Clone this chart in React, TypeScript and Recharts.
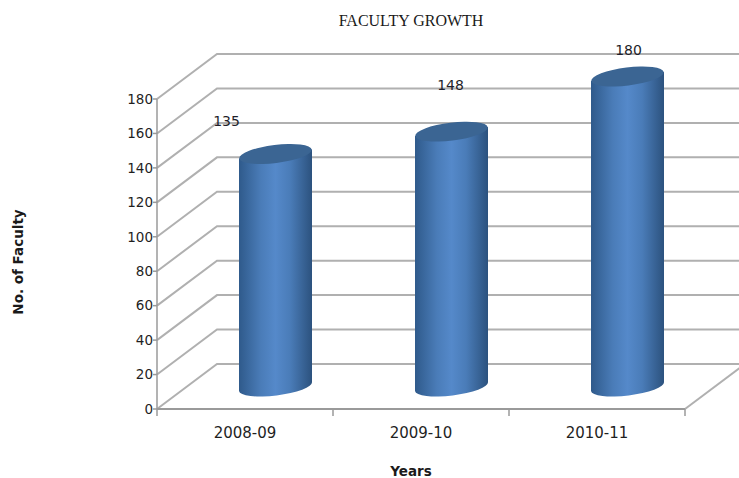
import React from 'react';
import { BarChart, Bar, XAxis, YAxis, CartesianGrid, LabelList } from 'recharts';

const years = ['2008-09', '2009-10', '2010-11'];
const faculty = [135, 148, 180];
const yTicks = [0, 20, 40, 60, 80, 100, 120, 140, 160, 180];

// data labels were dragged by hand in the original, so each has its own nudge
const labelNudge = [
  { dx: -19, dy: -56 },
  { dx: 29, dy: -69 },
  { dx: 31, dy: -49 },
];

const rows = years.map((year, i) => ({ year, faculty: faculty[i] }));

const DEPTH_X = 60;
const DEPTH_Y = 45;
const GRID = '#b0b0b0';
const AXIS = '#9a9a9a';
const TICK_FONT = '"DejaVu Sans", sans-serif';

// wall + side wall line for every value; the zero line also gets the floor edge
const WallLine = (props: any) => {
  const { x1, x2, y1 } = props;
  const isFloor = Math.abs(y1 - 409) < 1;
  return (
    <g>
      <polyline
        points={`${x1},${y1} ${x1 + DEPTH_X},${y1 - DEPTH_Y} ${x2 + DEPTH_X},${y1 - DEPTH_Y}`}
        fill="none"
        stroke={GRID}
        strokeWidth={2}
      />
      {isFloor && (
        <line x1={x2} y1={y1} x2={x2 + DEPTH_X} y2={y1 - DEPTH_Y} stroke={GRID} strokeWidth={2} />
      )}
    </g>
  );
};

// cylinder sits half way back in the 3d floor
const Cylinder = (props: any) => {
  const { x, y, width, height } = props;
  const left = x + DEPTH_X / 2;
  const right = left + width;
  const cx = left + width / 2;
  const top = y - DEPTH_Y / 2;
  const bottom = top + height;
  const rx = width / 2;
  const ry = 9;
  const tilt = -7;
  const lift = 4.5;
  return (
    <g>
      <path
        d={`M${left},${top + lift} L${right},${top - lift} L${right},${bottom - lift} A${rx},${ry} ${tilt} 0 1 ${left},${bottom + lift} Z`}
        fill="url(#cylinderBody)"
      />
      <ellipse cx={cx} cy={top} rx={rx} ry={ry} transform={`rotate(${tilt} ${cx} ${top})`} fill="#3b6593" />
    </g>
  );
};

const YearTick = (props: any) => {
  const { x, y, index, payload } = props;
  const step = 176;
  return (
    <g>
      <line x1={x - step / 2} y1={y - 8} x2={x - step / 2} y2={y - 1} stroke={AXIS} strokeWidth={1.5} />
      {index === years.length - 1 && (
        <line x1={x + step / 2} y1={y - 8} x2={x + step / 2} y2={y - 1} stroke={AXIS} strokeWidth={1.5} />
      )}
      <text x={x} y={y + 21} textAnchor="middle" fontSize={15} fontFamily={TICK_FONT} fill="#1f1f1f">
        {payload.value}
      </text>
    </g>
  );
};

const NudgedLabel = (props: any) => {
  const { x, y, width, index, value } = props;
  const n = labelNudge[index];
  return (
    <text
      x={x + width / 2 + n.dx}
      y={y + n.dy + 5}
      textAnchor="middle"
      fontSize={14}
      fontFamily={TICK_FONT}
      fill="#1f1f2a"
    >
      {value}
    </text>
  );
};

export default function App() {
  return (
    <div style={{ position: 'absolute', left: 0, top: 0, width: 739, height: 478, background: '#fff', overflow: 'hidden' }}>
      <BarChart width={739} height={478} data={rows} margin={{ top: 99, right: 54, bottom: 39, left: 97 }}>
        <defs>
          <linearGradient id="cylinderBody" x1="0" y1="0" x2="1" y2="0">
            <stop offset="0%" stopColor="#2f5a8b" />
            <stop offset="30%" stopColor="#4a7cb8" />
            <stop offset="50%" stopColor="#5589ca" />
            <stop offset="70%" stopColor="#4a7cb8" />
            <stop offset="100%" stopColor="#2c527e" />
          </linearGradient>
        </defs>
        <CartesianGrid vertical={false} horizontal={WallLine} />
        <XAxis
          dataKey="year"
          axisLine={{ stroke: AXIS, strokeWidth: 2 }}
          tickLine={false}
          tick={YearTick}
          interval={0}
        />
        <YAxis
          width={60}
          domain={[0, 180]}
          ticks={yTicks}
          interval={0}
          axisLine={{ stroke: AXIS, strokeWidth: 1.5 }}
          tickLine={{ stroke: AXIS, strokeWidth: 1.5 }}
          tickSize={4}
          tickMargin={0}
          tick={{ fontSize: 13.5, fontFamily: TICK_FONT, fill: '#1f1f1f' }}
        />
        <Bar dataKey="faculty" barSize={73} shape={Cylinder} isAnimationActive={false}>
          <LabelList dataKey="faculty" content={NudgedLabel} />
        </Bar>
        <text x={411} y={26} textAnchor="middle" fontSize={16} fontFamily='"Liberation Serif", serif' fill="#1a1a1a">
          FACULTY GROWTH
        </text>
        <text x={411} y={476} textAnchor="middle" fontSize={13.5} fontWeight="bold" fontFamily='"DejaVu Sans", sans-serif' fill="#1a1a1a">
          Years
        </text>
        <text
          x={23}
          y={262}
          textAnchor="middle"
          fontSize={13.5}
          fontWeight="bold"
          fontFamily='"DejaVu Sans", sans-serif'
          fill="#1a1a1a"
          transform="rotate(-90 23 262)"
        >
          No. of Faculty
        </text>
      </BarChart>
    </div>
  );
}
